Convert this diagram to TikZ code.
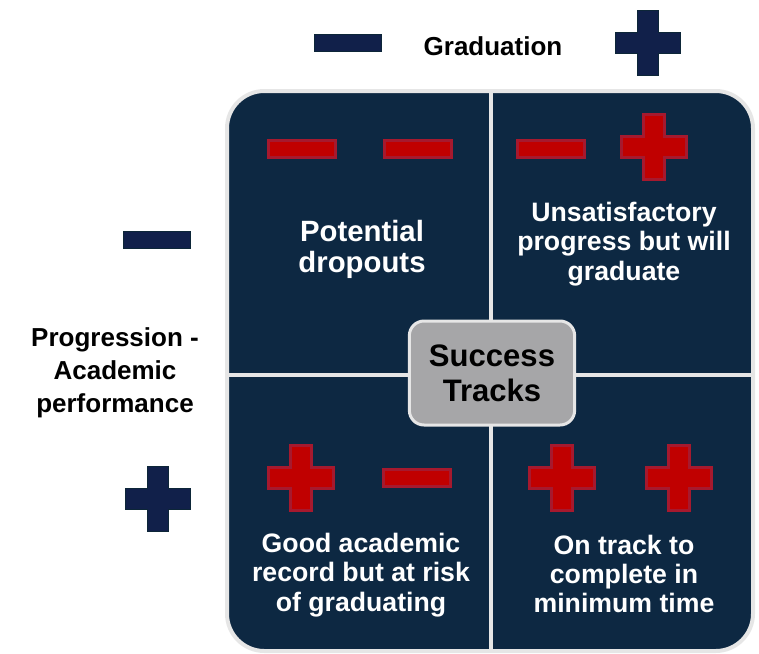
\documentclass[tikz,border=0pt]{standalone}
\usepackage{fontspec}
\setmainfont{Liberation Sans}
\usetikzlibrary{positioning}

\definecolor{quadblue}{RGB}{13,40,66}
\definecolor{edgegrey}{RGB}{230,230,230}
\definecolor{signred}{RGB}{192,0,0}
\definecolor{signredline}{RGB}{166,25,46}
\definecolor{signnavy}{RGB}{17,32,74}
\definecolor{signnavyline}{RGB}{13,38,56}
\definecolor{hubgrey}{RGB}{166,166,168}

\begin{document}
\begin{tikzpicture}[
  x=0.75pt, y=-0.75pt,
  every node/.style={font=\bfseries, align=center, inner sep=0pt},
  quadtext/.style={text=white, font=\bfseries\fontsize{20}{22}\selectfont},
  bigquadtext/.style={text=white, font=\bfseries\fontsize{22}{23.3}\selectfont},
  axistext/.style={text=black, font=\bfseries\fontsize{19.5}{24.75}\selectfont},
  hub/.style={draw=edgegrey, fill=hubgrey, line width=2.25pt, rounded corners=11pt, minimum width=124pt, minimum height=78pt, text=black, font=\bfseries\fontsize{23.3}{26}\selectfont},
  divider/.style={draw=edgegrey, line width=3pt},
  redsign/.style={fill=signred, draw=signredline, line width=2.25pt},
  navysign/.style={fill=signnavy, draw=signnavyline, line width=1.2pt},
  minussign/.pic={\path[pic actions] (-33.5,-8.5) rectangle (33.5,8.5);},
  plussign/.pic={\path[pic actions] (-10.5,-32.5) -- (10.5,-32.5) -- (10.5,-10.5) -- (32.5,-10.5) -- (32.5,10.5) -- (10.5,10.5) -- (10.5,32.5) -- (-10.5,32.5) -- (-10.5,10.5) -- (-32.5,10.5) -- (-32.5,-10.5) -- (-10.5,-10.5) -- cycle;}
]
\useasboundingbox (0,0) rectangle (759,653);

% Matrix background and dividers
\path[fill=quadblue, draw=edgegrey, line width=3pt, rounded corners=28pt] (227,91) rectangle (753,651);
\draw[divider] (490.5,91) -- (490.5,651);
\draw[divider] (227,375) -- (753,375);

% Axis: graduation
\pic[navysign] (gradminus) at (348,43) {minussign};
\node[axistext] (grad) at (493,46) {Graduation};
\pic[navysign] (gradplus) at (648,43) {plussign};

% Axis: progression
\pic[navysign] (progminus) at (157,240) {minussign};
\node[axistext] (prog) at (115,373) {Progression -\\Academic\\performance};
\pic[navysign] (progplus) at (158,499) {plussign};

% Quadrant signs
\pic[redsign] (tlsigna) at (302,149) {minussign};
\pic[redsign] (tlsignb) at (418,149) {minussign};
\pic[redsign] (trsigna) at (551,149) {minussign};
\pic[redsign] (trsignb) at (654,147) {plussign};
\pic[redsign] (blsigna) at (301,478) {plussign};
\pic[redsign] (blsignb) at (417,478) {minussign};
\pic[redsign] (brsigna) at (562,478) {plussign};
\pic[redsign] (brsignb) at (679,478) {plussign};

% Quadrant texts
\node[bigquadtext] (dropouts) at (362,249) {Potential\\dropouts};
\node[quadtext] (unsatisfactory) at (624,244) {Unsatisfactory\\progress but will\\graduate};
\node[quadtext] (atrisk) at (361,575) {Good academic\\record but at risk\\of graduating};
\node[quadtext] (ontrack) at (624,574) {On track to\\complete in\\minimum time};

% Centre
\node[hub] (tracks) at (492,373) {Success\\Tracks};

\end{tikzpicture}
\end{document}
